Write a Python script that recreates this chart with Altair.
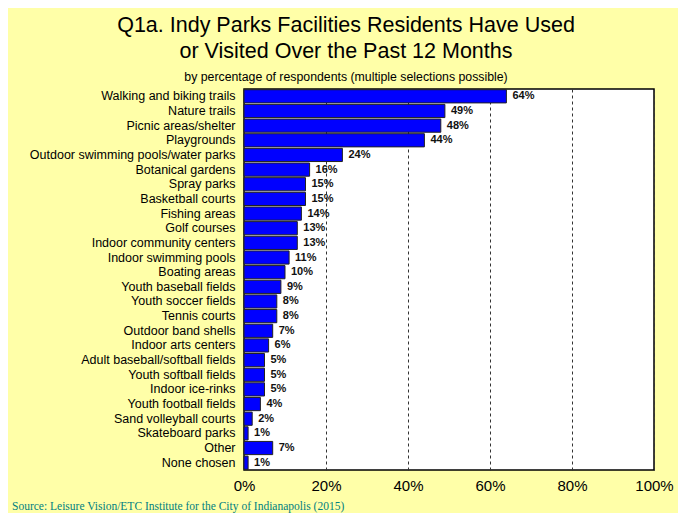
import altair as alt
import pandas as pd

categories = [
    "Walking and biking trails", "Nature trails", "Picnic areas/shelter", "Playgrounds",
    "Outdoor swimming pools/water parks", "Botanical gardens", "Spray parks",
    "Basketball courts", "Fishing areas", "Golf courses", "Indoor community centers",
    "Indoor swimming pools", "Boating areas", "Youth baseball fields", "Youth soccer fields",
    "Tennis courts", "Outdoor band shells", "Indoor arts centers",
    "Adult baseball/softball fields", "Youth softball fields", "Indoor ice-rinks",
    "Youth football fields", "Sand volleyball courts", "Skateboard parks", "Other", "None chosen",
]
values = [64, 49, 48, 44, 24, 16, 15, 15, 14, 13, 13, 11, 10, 9, 8, 8, 7, 6, 5, 5, 5, 4, 2, 1, 7, 1]
tick_values = [0, 20, 40, 60, 80, 100]
title_lines = ["Q1a. Indy Parks Facilities Residents Have Used", "or Visited Over the Past 12 Months"]
subtitle = "by percentage of respondents (multiple selections possible)"
source = "Source:  Leisure Vision/ETC Institute for the City of Indianapolis (2015)"

df = pd.DataFrame({"facility": categories, "pct": values})
df["label"] = df["pct"].astype(str) + "%"

FONT = "Liberation Sans"

y_enc = alt.Y("facility:N", sort=categories,
              scale=alt.Scale(paddingInner=0.1, paddingOuter=0.05),
              axis=alt.Axis(title=None, ticks=False, domain=False, labelFontSize=12.5,
                            labelFont=FONT, labelColor="black", labelPadding=9,
                            labelLimit=400))
x_enc = alt.X("pct:Q", scale=alt.Scale(domain=[0, 100], nice=False),
              axis=alt.Axis(title=None, values=tick_values, labelExpr="datum.value + '%'",
                            labelFontSize=15, labelFont=FONT, labelColor="black",
                            ticks=False, domain=False, labelPadding=8,
                            grid=True, gridDash=[3, 3], gridColor="#333333",
                            gridWidth=1, labelFlush=False))

base = alt.Chart(df)
bars = base.mark_bar(color="#0000FF", stroke="#222222", strokeWidth=1).encode(x=x_enc, y=y_enc)
labels = base.mark_text(align="left", baseline="middle", dx=6, fontSize=11,
                        fontWeight="bold", font=FONT, color="#111111").encode(
    x="pct:Q", y=alt.Y("facility:N", sort=categories), text="label:N")

src = alt.Chart(pd.DataFrame({"t": [source]})).mark_text(
    align="left", baseline="middle", font="Liberation Serif", fontSize=11.5,
    color="#008080").encode(x=alt.value(-232), y=alt.value(418), text="t:N")

chart = alt.layer(bars, labels, src).properties(
    width=410, height=381,
    title=alt.TitleParams(text=title_lines, subtitle=subtitle, fontSize=21.5, font=FONT,
                          fontWeight="normal", color="black", lineHeight=26,
                          subtitleFont=FONT, subtitleFontSize=12.3, subtitleColor="black",
                          subtitlePadding=8, anchor="middle", frame="group",
                          dx=-103, offset=6),
    autosize=alt.AutoSizeParams(type="none"),
    padding={"left": 236, "top": 81, "right": 24, "bottom": 43},
    background="#FFFFA8",
).configure_view(stroke="black", strokeWidth=1.5, fill="white")

chart.save("out.html", embed_options={"renderer": "svg", "actions": False})
